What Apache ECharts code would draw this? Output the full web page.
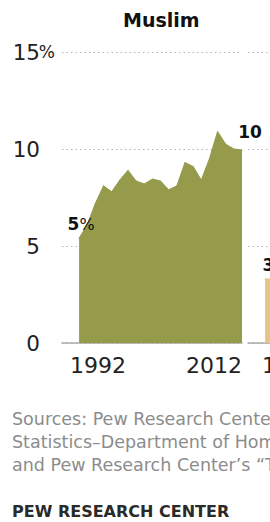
<!DOCTYPE html>
<html>
<head>
<meta charset="utf-8">
<script src="https://cdn.jsdelivr.net/npm/echarts@6/dist/echarts.min.js"></script>
<style>
  html, body { margin: 0; padding: 0; background: #fff; }
  #chart { width: 270px; height: 522px; }
</style>
</head>
<body>
<div id="chart"></div>
<script>
// ---- data ----
const panelTitle = 'Muslim';
const years = [1992, 1993, 1994, 1995, 1996, 1997, 1998, 1999, 2000, 2001, 2002,
               2003, 2004, 2005, 2006, 2007, 2008, 2009, 2010, 2011, 2012];
const muslimShare = [5.4, 6.1, 7.2, 8.1, 7.8, 8.4, 8.9, 8.35, 8.2, 8.45, 8.35,
                     7.9, 8.1, 9.3, 9.1, 8.4, 9.5, 10.9, 10.25, 10.0, 9.95];
// next panel (only its first edge is visible in the picture)
const nextYears = [1992, 1993];
const nextShare = [3.3, 3.3];
const yTicks = [0, 5, 10, 15];
const xTickLabels = [1992, 2012];
const footLines = [
  'Sources: Pew Research Center analysis of Office of Immigration',
  'Statistics\u2013Department of Homeland Security data',
  'and Pew Research Center\u2019s \u201cThe Future of the Global Muslim Population\u201d'
];
const credit = 'PEW RESEARCH CENTER';

// ---- chart ----
const FONT = 'DejaVu Sans';
const chart = echarts.init(document.getElementById('chart'), null, { renderer: 'svg' });

function pointLabel(v, withPct, offset, dist) {
  return {
    show: true,
    position: 'top',
    distance: dist,
    offset: offset,
    formatter: withPct ? '{b|' + Math.round(v) + '}{p|%}' : '{b|' + Math.round(v) + '}',
    rich: {
      b: { fontFamily: FONT, fontSize: 17, fontWeight: 'bold', color: '#111' },
      p: { fontFamily: FONT, fontSize: 16, color: '#111' }
    }
  };
}

const mainData = years.map((y, i) => {
  const item = { value: [y, muslimShare[i]] };
  if (i === 0) item.label = pointLabel(muslimShare[i], true, [2, 0], 5);
  if (i === years.length - 1) item.label = pointLabel(muslimShare[i], false, [8, 0], 9);
  return item;
});
const nextData = nextYears.map((y, i) => {
  const item = { value: [y, nextShare[i]] };
  if (i === 0) item.label = pointLabel(nextShare[i], true, [11, 0], 5);
  return item;
});

const splitStyle = { show: true, lineStyle: { color: '#b4b4b4', type: [1.5, 3], width: 1 } };
const xLabelRich = {
  a: { fontFamily: FONT, fontSize: 22, color: '#222', padding: [0, 0, 0, 38] },
  b: { fontFamily: FONT, fontSize: 22, color: '#222', padding: [0, 56, 0, 0] },
  c: { fontFamily: FONT, fontSize: 22, color: '#222', padding: [0, 0, 0, 50] }
};

const option = {
  animation: false,
  title: {
    text: panelTitle,
    left: 123,
    top: 10,
    padding: 0,
    textStyle: { fontFamily: FONT, fontSize: 19, fontWeight: 'bold', color: '#111' }
  },
  grid: [
    { left: 62, top: 52, width: 180, height: 291, outerBoundsMode: 'none', containLabel: false },
    { left: 248, top: 52, right: 0, height: 291, outerBoundsMode: 'none', containLabel: false }
  ],
  xAxis: [
    {
      gridIndex: 0, type: 'value', min: 1989.9, max: 2012,
      axisLine: { show: true, lineStyle: { color: '#aaaaaa', width: 1.5 } },
      axisTick: { show: false },
      splitLine: { show: false },
      axisLabel: {
        customValues: xTickLabels,
        margin: 11,
        formatter: v => (v === xTickLabels[0] ? '{a|' + v + '}' : '{b|' + v + '}'),
        rich: xLabelRich
      }
    },
    {
      gridIndex: 1, type: 'value', min: 1989.9, max: 1992.6,
      axisLine: { show: true, lineStyle: { color: '#aaaaaa', width: 1.5 } },
      axisTick: { show: false },
      splitLine: { show: false },
      axisLabel: {
        customValues: [xTickLabels[0]],
        margin: 11,
        formatter: v => '{c|' + v + '}',
        rich: xLabelRich
      }
    }
  ],
  yAxis: [
    {
      gridIndex: 0, type: 'value', min: 0, max: 15, interval: 5,
      axisLine: { show: false }, axisTick: { show: false },
      splitLine: splitStyle,
      axisLabel: {
        margin: 7,
        formatter: v => '{n|' + v + '}{p|' + (v === yTicks[yTicks.length - 1] ? '%' : ' ') + '}',
        rich: {
          n: { fontFamily: FONT, fontSize: 21.5, color: '#222' },
          p: { fontFamily: FONT, fontSize: 17, color: '#222', width: 15 }
        }
      }
    },
    {
      gridIndex: 1, type: 'value', min: 0, max: 15, interval: 5,
      axisLine: { show: false }, axisTick: { show: false },
      splitLine: splitStyle,
      axisLabel: { show: false }
    }
  ],
  series: [
    {
      type: 'line', xAxisIndex: 0, yAxisIndex: 0,
      data: mainData,
      symbol: 'circle', symbolSize: 1,
      itemStyle: { color: '#959b4b' },
      lineStyle: { color: '#959b4b', width: 1 },
      areaStyle: { color: '#959b4b', opacity: 1 },
      z: 3
    },
    {
      type: 'line', xAxisIndex: 1, yAxisIndex: 1,
      data: nextData,
      clip: true,
      symbol: 'circle', symbolSize: 1,
      itemStyle: { color: '#e3c687' },
      lineStyle: { color: '#e3c687', width: 1 },
      areaStyle: { color: '#e3c687', opacity: 1 },
      z: 3
    }
  ],
  graphic: footLines.map((t, i) => ({
    type: 'text', left: 12, top: 410 + i * 23,
    style: { text: t, fontFamily: FONT, fontSize: 17.5, fill: '#8c8c8c' }
  })).concat([{
    type: 'text', left: 12, top: 503,
    style: { text: credit, fontFamily: FONT, fontSize: 16, fontWeight: 'bold', fill: '#2a2a2a' }
  }])
};
chart.setOption(option);
</script>
</body>
</html>
